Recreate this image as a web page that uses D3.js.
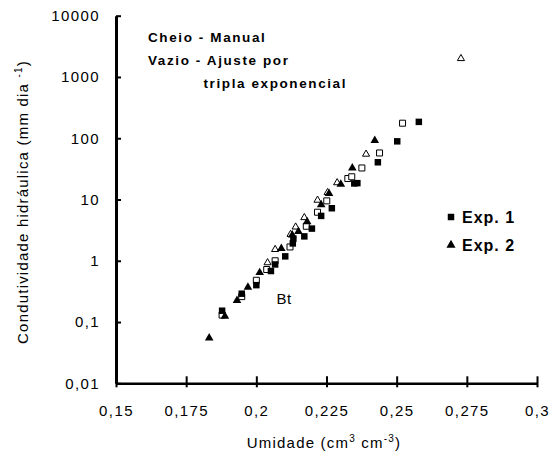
<!DOCTYPE html>
<html>
<head>
<meta charset="utf-8">
<script src="https://cdn.jsdelivr.net/npm/d3@7"></script>
<style>
  body { margin: 0; background: #fff; }
  text { font-family: "Liberation Sans", Arial, sans-serif; fill: #000; }
</style>
</head>
<body>
<svg id="drawing_region"></svg>
<script>
// umidade (cm3 cm-3) e condutividade (mm dia-1)
const exp1_manual_x = [0.1878, 0.1948, 0.2000, 0.2052, 0.2067, 0.2103, 0.2130, 0.2132, 0.2171, 0.2198, 0.2231, 0.2269, 0.2349, 0.2360, 0.2433, 0.2502, 0.2579];
const exp1_manual_y = [0.153, 0.29, 0.40, 0.68, 0.87, 1.18, 1.92, 2.3, 2.5, 3.35, 5.4, 7.2, 18.3, 18.5, 40.5, 89, 185];

const exp1_ajuste_x = [0.1878, 0.1948, 0.2000, 0.2037, 0.2067, 0.2120, 0.2178, 0.2218, 0.2251, 0.2326, 0.2340, 0.2376, 0.2439, 0.2521];
const exp1_ajuste_y = [0.13, 0.26, 0.48, 0.72, 1.0, 1.68, 3.66, 6.2, 9.5, 22, 23.5, 32.7, 57.5, 176];

const exp2_manual_x = [0.1832, 0.1888, 0.1931, 0.1970, 0.2012, 0.2089, 0.2128, 0.2150, 0.2181, 0.2231, 0.2259, 0.2301, 0.2342, 0.2422];
const exp2_manual_y = [0.055, 0.124, 0.224, 0.37, 0.64, 1.59, 2.64, 3.0, 4.35, 8.2, 12.5, 17.8, 32.7, 91.6];

const exp2_ajuste_x = [0.2040, 0.2067, 0.2122, 0.2140, 0.2171, 0.2218, 0.2254, 0.2288, 0.2391, 0.2729];
const exp2_ajuste_y = [0.93, 1.53, 2.7, 3.56, 5.07, 9.75, 13, 18.8, 55, 2000];

const x_ticks = [0.15, 0.175, 0.2, 0.225, 0.25, 0.275, 0.3];
const x_tick_labels = ["0,15", "0,175", "0,2", "0,225", "0,25", "0,275", "0,3"];
const y_ticks = [0.01, 0.1, 1, 10, 100, 1000, 10000];
const y_tick_labels = ["0,01", "0,1", "1", "10", "100", "1000", "10000"];

const legend_labels = ["Exp. 1", "Exp. 2"];

let config = {
    parent: '#drawing_region',
    width: 554,
    height: 457,
    margin: {top: 15.7, right: 17, bottom: 73.7, left: 116},
};

let series = [
    {x: exp1_ajuste_x, y: exp1_ajuste_y, shape: 'square', filled: false},
    {x: exp2_ajuste_x, y: exp2_ajuste_y, shape: 'triangle', filled: false},
    {x: exp1_manual_x, y: exp1_manual_y, shape: 'square', filled: true},
    {x: exp2_manual_x, y: exp2_manual_y, shape: 'triangle', filled: true},
];

class ScatterPlot {

    constructor( config, series ) {
        this.config = config;
        this.series = series;
        this.init();
    }

    init() {
        let self = this;

        self.svg = d3.select( self.config.parent )
            .attr('width', self.config.width)
            .attr('height', self.config.height);

        self.chart = self.svg.append('g')
            .attr('transform', `translate(${self.config.margin.left}, ${self.config.margin.top})`);

        self.inner_width = self.config.width - self.config.margin.left - self.config.margin.right;
        self.inner_height = self.config.height - self.config.margin.top - self.config.margin.bottom;

        self.xscale = d3.scaleLinear()
            .domain([0.15, 0.3])
            .range([0, self.inner_width]);

        self.yscale = d3.scaleLog()
            .domain([0.01, 10000])
            .range([self.inner_height, 0]);

        self.xaxis = d3.axisBottom(self.xscale)
            .tickValues(x_ticks)
            .tickFormat((d, i) => x_tick_labels[i])
            .tickSizeInner(4)
            .tickSizeOuter(0)
            .tickPadding(18);

        self.yaxis = d3.axisLeft(self.yscale)
            .tickValues(y_ticks)
            .tickFormat((d, i) => y_tick_labels[i])
            .tickSizeInner(5)
            .tickSizeOuter(0)
            .tickPadding(11);
    }

    update() {
        let self = this;
        self.render();
    }

    render() {
        let self = this;

        // eixos
        let xg = self.chart.append('g')
            .attr('transform', `translate(0, ${self.inner_height})`)
            .call(self.xaxis);
        xg.select('.domain').attr('stroke', '#000').attr('stroke-width', 2.5);
        xg.selectAll('.tick line').attr('stroke', '#000').attr('stroke-width', 2)
            .attr('y1', -7);
        xg.selectAll('.tick text')
            .attr('font-size', '15px')
            .attr('letter-spacing', '1.4px')
            .attr('fill', '#000');

        let yg = self.chart.append('g')
            .call(self.yaxis);
        yg.select('.domain').attr('stroke', '#000').attr('stroke-width', 3);
        yg.selectAll('.tick line').attr('stroke', '#000').attr('stroke-width', 2)
            .attr('x2', 5);
        yg.selectAll('.tick text')
            .attr('font-size', '15px')
            .attr('letter-spacing', '1.4px')
            .attr('fill', '#000');
        yg.attr('font-family', null);
        xg.attr('font-family', null);

        // pontos
        let sq = d3.symbol().type(d3.symbolSquare);
        let tri = d3.symbol().type(d3.symbolTriangle);

        self.series.forEach(s => {
            let pts = s.x.map((v, i) => ({x: v, y: s.y[i]}));
            let gen = s.shape == 'square'
                ? sq.size(s.filled ? 42 : 36)
                : tri.size(s.filled ? 32 : 22);
            self.chart.append('g')
                .selectAll('path')
                .data(pts)
                .join('path')
                .attr('transform', d => `translate(${self.xscale(d.x)}, ${self.yscale(d.y)})`)
                .attr('d', gen())
                .attr('fill', s.filled ? '#000' : '#fff')
                .attr('stroke', '#000')
                .attr('stroke-width', s.filled ? 0 : 1);
        });

        // titulos dos eixos
        let xt = self.svg.append('text')
            .attr('x', 324)
            .attr('y', 448)
            .attr('text-anchor', 'middle')
            .attr('font-size', '15px')
            .attr('letter-spacing', '1.2px');
        xt.append('tspan').text('Umidade (cm');
        xt.append('tspan').attr('font-size', '10px').attr('dy', -6).text('3');
        xt.append('tspan').attr('dy', 6).text(' cm');
        xt.append('tspan').attr('font-size', '10px').attr('dy', -6).text('-3');
        xt.append('tspan').attr('dy', 6).text(')');

        let yt = self.svg.append('text')
            .attr('transform', 'translate(28, 202) rotate(-90)')
            .attr('text-anchor', 'middle')
            .attr('font-size', '15px')
            .attr('letter-spacing', '1.2px');
        yt.append('tspan').text('Condutividade hidráulica (mm dia ');
        yt.append('tspan').attr('font-size', '10px').attr('dy', -6).text('-1');
        yt.append('tspan').attr('dy', 6).text(')');

        // anotacoes
        let notes = [
            {t: 'Cheio - Manual', x: 148, y: 41.5},
            {t: 'Vazio - Ajuste por', x: 148, y: 64.5},
            {t: 'tripla exponencial', x: 203.5, y: 87.5},
        ];
        self.svg.append('g').selectAll('text')
            .data(notes)
            .join('text')
            .attr('x', d => d.x)
            .attr('y', d => d.y)
            .attr('font-size', '13.5px')
            .attr('font-weight', 'bold')
            .attr('letter-spacing', '1.6px')
            .text(d => d.t);

        self.svg.append('text')
            .attr('x', 276.5)
            .attr('y', 303.5)
            .attr('font-size', '15px')
            .attr('letter-spacing', '0.5px')
            .text('Bt');

        // legenda
        let leg = self.svg.append('g');
        legend_labels.forEach((lab, i) => {
            let ly = 217 + i * 28;
            leg.append('path')
                .attr('transform', `translate(451, ${ly})`)
                .attr('d', (i == 0 ? sq.size(42) : tri.size(36))())
                .attr('fill', '#000');
            leg.append('text')
                .attr('x', 462)
                .attr('y', ly + 6)
                .attr('font-size', '16px')
                .attr('font-weight', 'bold')
                .attr('letter-spacing', '1px')
                .text(lab);
        });
    }
}

let scatter_plot = new ScatterPlot( config, series );
scatter_plot.update();
</script>
</body>
</html>
